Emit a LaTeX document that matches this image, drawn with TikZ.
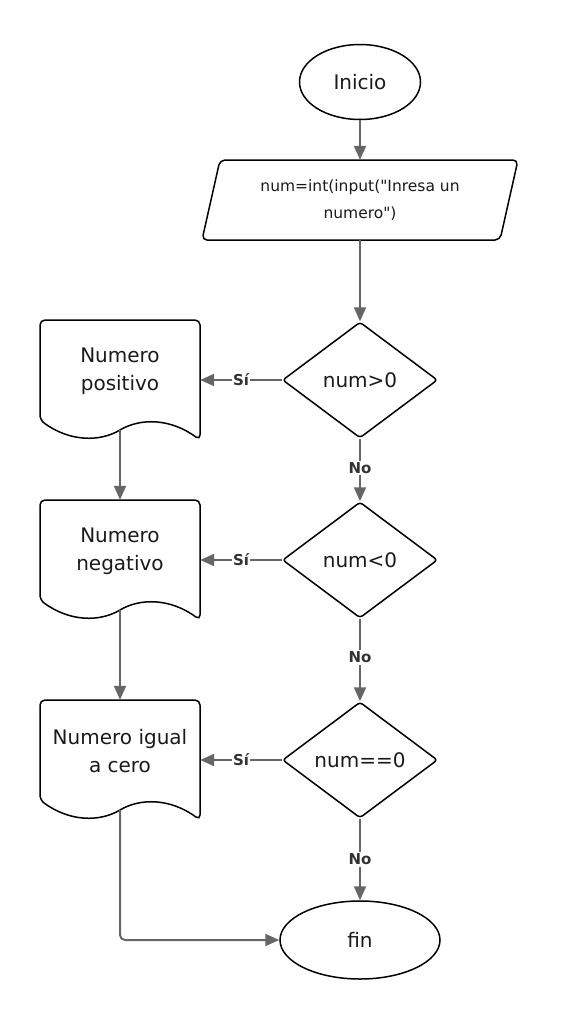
\documentclass[tikz,border=0pt]{standalone}
\usepackage{fontspec}
\setmainfont{DejaVu Sans}[Ligatures=TeXOff]
\usetikzlibrary{shapes.geometric,arrows.meta,calc}
\definecolor{linegray}{HTML}{666666}
\definecolor{textblack}{HTML}{1A1A1A}
\definecolor{labelgray}{HTML}{333333}
\newcommand\docoutline[1]{%
  \begin{scope}[shift={(#1.center)}]
    \draw[shapeline, rounded corners=5pt] (0,50) .. controls (20,38) and (50,38) .. (80,60)
      -- (80,-60) -- (-80,-60) -- (-80,40) .. controls (-50,62) and (-20,62) .. (0,50);
    \coordinate (#1b) at (0,50);
  \end{scope}}
\begin{document}
\begin{tikzpicture}[x=1pt,y=-1pt,
  shapeline/.style={draw=black, line width=1.5pt},
  conn/.style={draw=linegray, line width=2pt, -{Triangle[length=14pt,width=12pt]}},
  lbl/.style={fill=white, font=\bfseries\fontsize{15}{15}\selectfont, text=labelgray, inner sep=1.5pt},
  term/.style={ellipse, shapeline, fill=white, text=textblack, font=\fontsize{20}{26}\selectfont, inner sep=0pt},
  decision/.style={diamond, shapeline, fill=white, text=textblack, font=\fontsize{20}{26}\selectfont,
    inner sep=0pt, minimum width=155pt, minimum height=116pt, aspect=1.336, rounded corners=3pt},
  docbox/.style={draw=none, minimum width=160pt, minimum height=120pt, inner sep=0pt},
  doctext/.style={align=center, text=textblack, font=\fontsize{20}{28}\selectfont},
  iobox/.style={draw=none, align=center, text=textblack, font=\fontsize{15.5}{27}\selectfont,
    minimum width=298pt, minimum height=80pt, inner sep=0pt}
]
\useasboundingbox (0,0) rectangle (560,1020);

% terminals
\node[term, minimum width=121pt, minimum height=75pt] (ini) at (360,82) {Inicio};
\node[term, minimum width=160pt, minimum height=78pt] (fin) at (360,940) {fin};

% input / output parallelogram
\draw[shapeline, rounded corners=5pt] (220,160) -- (518,160) -- (500,240) -- (202,240) -- cycle;
\node[iobox] (inp) at (360,200) {num=int(input("Inresa un\\numero")};

% decisions
\node[decision] (c1) at (360,380) {num>0};
\node[decision] (c2) at (360,560) {num<0};
\node[decision] (c3) at (360,760) {num==0};

% documents
\node[docbox] (d1) at (120,380) {};
\node[docbox] (d2) at (120,560) {};
\node[docbox] (d3) at (120,760) {};
\docoutline{d1}
\docoutline{d2}
\docoutline{d3}
\node[doctext] (t1) at ($(d1.center)+(0,-9)$) {Numero\\positivo};
\node[doctext] (t2) at ($(d2.center)+(0,-9)$) {Numero\\negativo};
\node[doctext] (t3) at ($(d3.center)+(0,-9)$) {Numero igual\\a cero};

% connectors
\draw[conn] (ini.south) -- (inp.north);
\draw[conn] (inp.south) -- (c1.north);
\draw[conn] (c1.west) -- node[lbl] {Sí} (d1.east);
\draw[conn] (c1.south) -- node[lbl, pos=0.47] {No} (c2.north);
\draw[conn] (c2.west) -- node[lbl] {Sí} (d2.east);
\draw[conn] (c2.south) -- node[lbl, pos=0.47] {No} (c3.north);
\draw[conn] (c3.west) -- node[lbl] {Sí} (d3.east);
\draw[conn] (c3.south) -- node[lbl, pos=0.5] {No} (fin.north);
\draw[conn] (d1b) -- (d2.north);
\draw[conn] (d2b) -- (d3.north);
\draw[conn, rounded corners=5pt] (d3b) |- (fin.west);
\end{tikzpicture}
\end{document}
